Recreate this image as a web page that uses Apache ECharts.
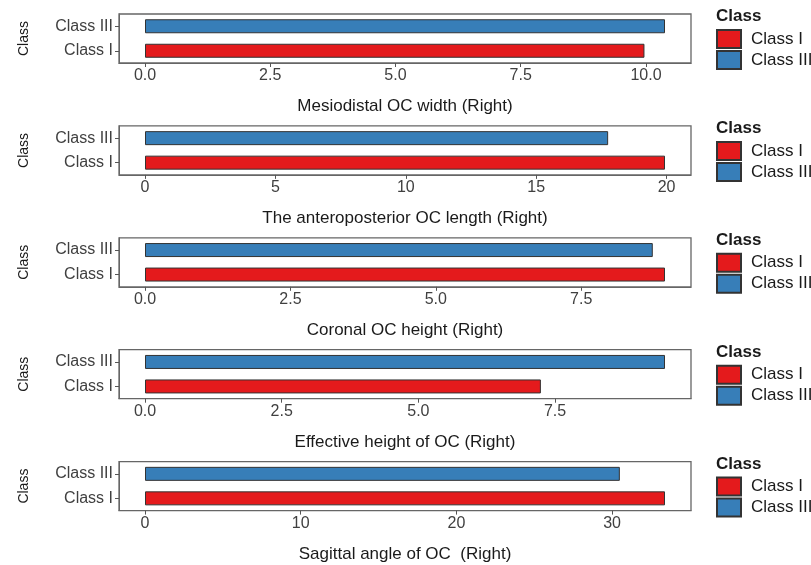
<!DOCTYPE html>
<html><head><meta charset="utf-8">
<script src="https://cdn.jsdelivr.net/npm/echarts@6/dist/echarts.min.js"></script>
<style>html,body{margin:0;padding:0;background:#fff}#c{width:811px;height:565px}</style>
</head><body><div id="c"></div>
<script>
const categories = ['Class I', 'Class III'];
const panelTitles = ['Mesiodistal OC width (Right)', 'The anteroposterior OC length (Right)', 'Coronal OC height (Right)', 'Effective height of OC (Right)', 'Sagittal angle of OC  (Right)'];
const classI = [9.97, 19.94, 8.94, 7.24, 33.4];
const classIII = [10.38, 17.76, 8.73, 9.51, 30.5];
const tickValues = [[0, 2.5, 5, 7.5, 10], [0, 5, 10, 15, 20], [0, 2.5, 5, 7.5], [0, 2.5, 5, 7.5], [0, 10, 20, 30]];
const tickDecimals = [1, 0, 1, 1, 0];

const FONT = 'Liberation Sans, Arial, sans-serif';
const top0 = 14, step = 111.9, h = 49;
const grids = [], xAxes = [], yAxes = [], series = [], legends = [], titles = [];
for (let i = 0; i < 5; i++) {
  const mx = Math.max(classI[i], classIII[i]);
  const t = top0 + step * i;
  grids.push({left: 119, width: 572, top: t, height: h, show: true, borderColor: '#666', borderWidth: 1.3, backgroundColor: 'transparent'});
  const dec = tickDecimals[i];
  xAxes.push({type: 'value', gridIndex: i, min: -0.05 * mx, max: 1.05 * mx,
    name: panelTitles[i], nameLocation: 'middle', nameGap: 35,
    nameTextStyle: {fontFamily: FONT, fontSize: 17, color: '#1a1a1a'},
    axisLine: {show: true, onZero: false, lineStyle: {color: '#666'}},
    axisTick: {show: true, length: 4, lineStyle: {color: '#555'}, customValues: tickValues[i]},
    axisLabel: {customValues: tickValues[i], formatter: v => v.toFixed(dec), margin: 5, fontFamily: FONT, fontSize: 16, color: '#404040'},
    splitLine: {show: false}});
  yAxes.push({type: 'category', gridIndex: i, data: categories,
    name: 'Class', nameLocation: 'middle', nameRotate: 90, nameGap: 88,
    nameTextStyle: {fontFamily: FONT, fontSize: 14, color: '#1a1a1a'},
    axisLine: {show: true, onZero: false, lineStyle: {color: '#666'}},
    axisTick: {show: true, length: 4, alignWithLabel: true, lineStyle: {color: '#555'}},
    axisLabel: {margin: 6, fontFamily: FONT, fontSize: 16, color: '#404040'},
    splitLine: {show: false}});
  series.push({type: 'bar', name: 'Class I', xAxisIndex: i, yAxisIndex: i, data: [classI[i], null], barWidth: 14, barGap: '-100%',
    itemStyle: {color: '#E41A1C', borderColor: '#333', borderWidth: 1}, silent: true});
  series.push({type: 'bar', name: 'Class III', xAxisIndex: i, yAxisIndex: i, data: [null, classIII[i]], barWidth: 14, barGap: '-100%',
    itemStyle: {color: '#377EB8', borderColor: '#333', borderWidth: 1}, silent: true});
  legends.push({orient: 'vertical', left: 716, top: t + 15, padding: 0, itemWidth: 24, itemHeight: 18, itemGap: 1, icon: 'rect',
    data: categories, selectedMode: false,
    textStyle: {fontFamily: FONT, fontSize: 17, color: '#1a1a1a', padding: [0, 0, 0, 5]}});
  titles.push({text: 'Class', left: 716, top: t - 6, padding: 0, textStyle: {fontFamily: FONT, fontSize: 17, fontWeight: 'bold', color: '#1a1a1a'}});
}
const chart = echarts.init(document.getElementById('c'), null, {renderer: 'canvas'});
chart.setOption({animation: false, title: titles, grid: grids, xAxis: xAxes, yAxis: yAxes, series: series, legend: legends});
</script></body></html>
